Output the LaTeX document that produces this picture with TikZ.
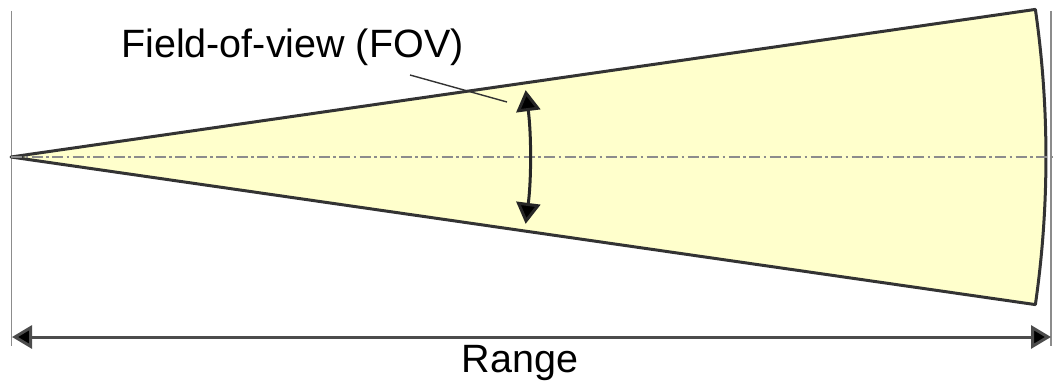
\documentclass[tikz,border=0pt]{standalone}
\usepackage{fontspec}
\setmainfont{Liberation Sans}
\usetikzlibrary{arrows.meta,calc}
\definecolor{fovfill}{HTML}{FFFFCC}
\definecolor{edge}{HTML}{333333}
\definecolor{guide}{HTML}{8C8C8C}
\tikzset{
  sector/.style={draw=edge,line width=3pt,fill=fovfill,line join=round},
  guideline/.style={draw=guide,line width=1.6pt},
  centre/.style={draw=guide,line width=1.5pt,dash pattern=on 11pt off 3.5pt on 2.5pt off 3.5pt},
  dimarrow/.style={draw=black!70,line width=3pt,{Triangle[length=20pt,width=23pt,fill=black]}-{Triangle[length=20pt,width=23pt,fill=black]}},
  fovarrow/.style={draw=black!85,line width=3pt,{Triangle[length=21pt,width=24pt,fill=black]}-{Triangle[length=21pt,width=24pt,fill=black]}},
  leader/.style={draw=black!80,line width=1.4pt},
  lbl/.style={inner sep=0pt,font=\fontsize{39.5}{46}\selectfont}
}
\begin{document}
\begin{tikzpicture}[x=1pt,y=1pt]
\useasboundingbox (0,0) rectangle (1055,381);
% guide lines
\coordinate (lt) at (11.5,370);
\coordinate (lb) at (11.5,35);
\coordinate (rt) at (1051,370);
\coordinate (rb) at (1051,35);
\draw[guideline] (lt) -- (lb);
\draw[guideline] (rt) -- (rb);
% sector
\coordinate (apex) at (11,224);
\draw[sector] (apex) -- ++(8.2:1035) arc[start angle=8.2,end angle=-8.2,radius=1035] -- cycle;
% centre line
\coordinate (cend) at (1055,224);
\draw[centre] (apex) -- (cend);
% FOV arrow
\draw[fovarrow] (apex) ++(7.4:519) arc[start angle=7.4,end angle=-7.4,radius=519];
% range arrow
\coordinate (ra) at (12,44);
\coordinate (rbb) at (1051,44);
\draw[dimarrow] (ra) -- (rbb);
\node[lbl,anchor=base] (range) at (520,9) {Range};
% FOV label
\node[lbl,anchor=base west] (fovlbl) at (121,323) {Field-of-view (FOV)};
\coordinate (l1) at (410,306);
\coordinate (l2) at (507,279);
\draw[leader] (l1) -- (l2);
\end{tikzpicture}
\end{document}
